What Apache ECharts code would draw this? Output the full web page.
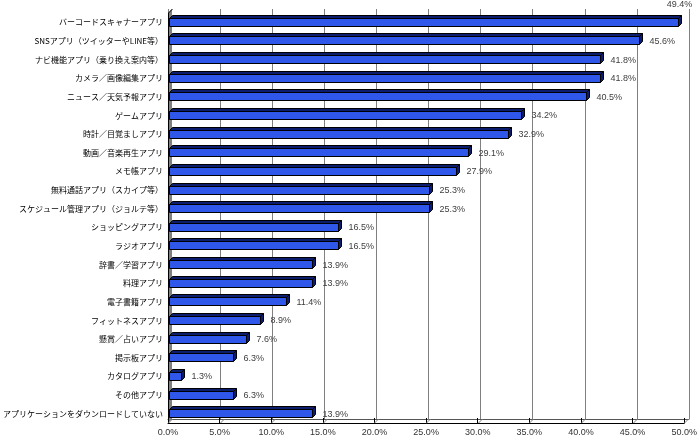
<!DOCTYPE html>
<html>
<head>
<meta charset="utf-8">
<script src="https://cdn.jsdelivr.net/npm/echarts@6/dist/echarts.min.js"></script>
<style>
html,body{margin:0;padding:0;background:#fff;}
#chart{width:700px;height:440px;}
</style>
</head>
<body>
<div id="chart"></div>
<script>
const categories = [
  'バーコードスキャナーアプリ',
  'SNSアプリ（ツイッターやLINE等）',
  'ナビ機能アプリ（乗り換え案内等）',
  'カメラ／画像編集アプリ',
  'ニュース／天気予報アプリ',
  'ゲームアプリ',
  '時計／目覚ましアプリ',
  '動画／音楽再生アプリ',
  'メモ帳アプリ',
  '無料通話アプリ（スカイプ等）',
  'スケジュール管理アプリ（ジョルテ等）',
  'ショッピングアプリ',
  'ラジオアプリ',
  '辞書／学習アプリ',
  '料理アプリ',
  '電子書籍アプリ',
  'フィットネスアプリ',
  '懸賞／占いアプリ',
  '掲示板アプリ',
  'カタログアプリ',
  'その他アプリ',
  'アプリケーションをダウンロードしていない'
];
const values = [49.4, 45.6, 41.8, 41.8, 40.5, 34.2, 32.9, 29.1, 27.9, 25.3, 25.3, 16.5, 16.5, 13.9, 13.9, 11.4, 8.9, 7.6, 6.3, 1.3, 6.3, 13.9];
const xMin = 0, xMax = 50, xStep = 5;
const xTicks = [0, 5, 10, 15, 20, 25, 30, 35, 40, 45, 50];

const DEPTH = 4;
const chart = echarts.init(document.getElementById('chart'), null, {renderer: 'canvas'});
const numFont = '9px "Liberation Sans", Arial, sans-serif';

const option = {
  animation: false,
  backgroundColor: '#ffffff',
  grid: [
    {left: 164, top: 13, width: 521, height: 410},
    {left: 164 + DEPTH, top: 13 - DEPTH, width: 521, height: 410}
  ],
  xAxis: [
    {
      gridIndex: 0, type: 'value', min: xMin, max: xMax, interval: xStep,
      axisLine: {show: true, lineStyle: {color: '#000', width: 1}},
      axisTick: {show: true, inside: true, length: 5, lineStyle: {color: '#000'}},
      axisLabel: {
        formatter: v => v.toFixed(1) + '%', color: '#333', fontSize: 9,
        fontFamily: '"Liberation Sans", Arial, sans-serif', margin: 5
      },
      splitLine: {show: false}
    },
    {
      gridIndex: 1, type: 'value', min: xMin, max: xMax, interval: xStep, position: 'top',
      axisLine: {show: true, lineStyle: {color: '#555', width: 1}},
      axisTick: {show: false}, axisLabel: {show: false},
      splitLine: {show: true, lineStyle: {color: '#808080', width: 1}}
    }
  ],
  yAxis: [
    {
      gridIndex: 0, type: 'category', data: categories, inverse: true,
      axisLine: {show: false}, axisTick: {show: false},
      axisLabel: {color: '#000', fontSize: 8, fontFamily: '"Noto Sans CJK JP", sans-serif', margin: 5}
    },
    {gridIndex: 1, type: 'value', show: false, min: 0, max: 1}
  ],
  series: [
    {
      // left wall
      type: 'custom', xAxisIndex: 0, yAxisIndex: 0, z: 1, silent: true,
      data: [[0, 0]],
      renderItem: function (params, api) {
        const cs = params.coordSys;
        const x = cs.x, y = cs.y, h = cs.height;
        return {
          type: 'group',
          children: [
            {type: 'polygon', shape: {points: [[x, y], [x + DEPTH, y - DEPTH], [x + DEPTH, y + h - DEPTH], [x, y + h]]},
             style: {fill: '#808080', stroke: null}},
            {type: 'polyline', shape: {points: [[x + 0.5, y + h], [x + 0.5, y], [x + DEPTH + 0.5, y - DEPTH]]},
             style: {stroke: '#000', lineWidth: 1, fill: null}}
          ]
        };
      }
    },
    {
      // floor grid diagonals
      type: 'custom', xAxisIndex: 0, yAxisIndex: 0, z: 1, silent: true,
      data: xTicks.map(v => [v, 0]),
      renderItem: function (params, api) {
        const cs = params.coordSys;
        const px = Math.round(api.coord([api.value(0), 0])[0]) + 0.5;
        const yb = cs.y + cs.height;
        return {type: 'line', shape: {x1: px, y1: yb, x2: px + DEPTH, y2: yb - DEPTH},
                style: {stroke: '#808080', lineWidth: 1}};
      }
    },
    {
      // 3D bars
      type: 'custom', xAxisIndex: 0, yAxisIndex: 0, z: 3,
      data: values.map((v, i) => [v, i]),
      encode: {x: 0, y: 1},
      renderItem: function (params, api) {
        const cs = params.coordSys;
        const v = api.value(0), i = api.value(1);
        const p0 = api.coord([0, i]);
        const p1 = api.coord([v, i]);
        const d = 3;
        const h = 8;
        const x0 = Math.round(p0[0]) + 1.5;
        const x1 = Math.round(p1[0]) + 0.5;
        const yc = p1[1] - 0.5;
        const yt = Math.round(yc - h / 2) + 0.5;
        const yb = yt + h;
        const dark = '#0d1d6e';
        let lx = x1 + d + 7, ly = yc + 1, align = 'left';
        if (lx + 28 > cs.x + cs.width + 10) {
          lx = x1 + 1; ly = cs.y - 8; align = 'center';
        }
        return {
          type: 'group',
          children: [
            {type: 'polygon', shape: {points: [[x1, yt], [x1 + d, yt - d], [x1 + d, yb - d], [x1, yb]]},
             style: {fill: dark, stroke: '#000', lineWidth: 1}},
            {type: 'polygon', shape: {points: [[x0, yt], [x0 + d, yt - d], [x1 + d, yt - d], [x1, yt]]},
             style: {fill: dark, stroke: '#000', lineWidth: 1}},
            {type: 'rect', shape: {x: x0, y: yt, width: x1 - x0, height: h},
             style: {fill: '#2f57ea', stroke: '#000', lineWidth: 1}},
            {type: 'text', x: lx, y: ly,
             style: {text: v.toFixed(1) + '%', fill: '#404040', font: numFont, align: align, verticalAlign: 'middle'}}
          ]
        };
      }
    }
  ]
};
chart.setOption(option);
</script>
</body>
</html>
